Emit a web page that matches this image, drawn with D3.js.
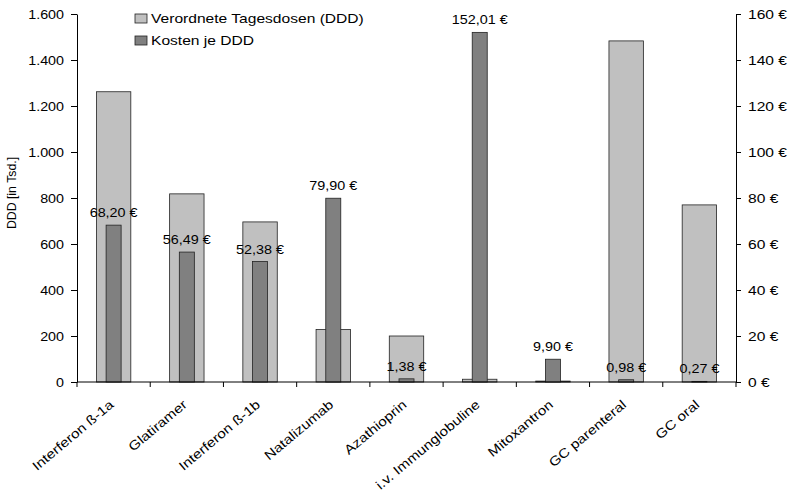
<!DOCTYPE html>
<html>
<head>
<meta charset="utf-8">
<script src="https://cdn.jsdelivr.net/npm/d3@7"></script>
<style>
  body { margin: 0; background: #fff; }
  svg { font-family: "Liberation Sans", Arial, sans-serif; }
</style>
</head>
<body>
<svg id="chart" width="793" height="492"></svg>
<script>
// Categories and series
const categories = ["Interferon ß-1a", "Glatiramer", "Interferon ß-1b", "Natalizumab", "Azathioprin",
  "i.v. Immunglobuline", "Mitoxantron", "GC parenteral", "GC oral"];
const ddd = [1262, 818, 696, 228, 200, 12, 4, 1483, 770];          // Verordnete Tagesdosen (Tsd.)
const kosten = [68.20, 56.49, 52.38, 79.90, 1.38, 152.01, 9.90, 0.98, 0.27]; // Kosten je DDD (€)
const leftTicks = [0, 200, 400, 600, 800, 1000, 1200, 1400, 1600];
const rightTicks = [0, 20, 40, 60, 80, 100, 120, 140, 160];
const seriesNames = ["Verordnete Tagesdosen (DDD)", "Kosten je DDD"];
const colors = ["#c0c0c0", "#808080"];

const svg = d3.select("#chart");
const plotLeft = 77, plotRight = 736, plotTop = 14, plotBottom = 382;

const x = d3.scaleBand().domain(categories).range([plotLeft, plotRight]);
const yL = d3.scaleLinear().domain([0, 1600]).range([plotBottom, plotTop]);
const yR = d3.scaleLinear().domain([0, 160]).range([plotBottom, plotTop]);

const de = d3.formatLocale({decimal: ",", thousands: ".", grouping: [3], currency: ["", " €"]});
const fmtThousands = de.format(",.0f");
const fmtEuro = de.format(",.2f");

const bwL = x.bandwidth() * 0.47;
const bwR = x.bandwidth() * 0.205;
const cx = (d) => x(d) + x.bandwidth() / 2;

// DDD bars (primary axis)
svg.append("g").selectAll("rect").data(categories).join("rect")
  .attr("x", (d) => cx(d) - bwL / 2)
  .attr("y", (d, i) => yL(ddd[i]))
  .attr("width", bwL)
  .attr("height", (d, i) => plotBottom - yL(ddd[i]))
  .attr("fill", colors[0]).attr("stroke", "#222").attr("stroke-width", 0.8);

// Cost bars (secondary axis)
svg.append("g").selectAll("rect").data(categories).join("rect")
  .attr("x", (d) => cx(d) - bwR / 2)
  .attr("y", (d, i) => yR(kosten[i]))
  .attr("width", bwR)
  .attr("height", (d, i) => plotBottom - yR(kosten[i]))
  .attr("fill", colors[1]).attr("stroke", "#222").attr("stroke-width", 0.8);

// Cost labels
svg.append("g").selectAll("text").data(categories).join("text")
  .attr("transform", (d, i) => `translate(${cx(d)},${yR(kosten[i]) - 8}) scale(1.15,1)`)
  .attr("text-anchor", "middle")
  .attr("font-size", 12.5)
  .attr("fill", "#000")
  .text((d, i) => fmtEuro(kosten[i]) + " €");

// Axes
const axisStyle = (sx) => (g) => {
  g.selectAll("path.domain").attr("stroke", "#000");
  g.selectAll(".tick line").attr("stroke", "#000");
  g.selectAll(".tick text").each(function () {
    const t = d3.select(this);
    const tx = +t.attr("x");
    t.attr("x", 0).attr("transform", `translate(${tx},0) scale(${sx},1)`);
  }).attr("font-size", 13).attr("fill", "#000")
    .attr("font-family", "Liberation Sans, Arial, sans-serif");
};

svg.append("g").attr("transform", `translate(${plotLeft},0)`)
  .call(d3.axisLeft(yL).tickValues(leftTicks).tickFormat(fmtThousands).tickSize(6).tickSizeOuter(0).tickPadding(7))
  .call(axisStyle(1.1));

svg.append("g").attr("transform", `translate(${plotRight},0)`)
  .call(d3.axisRight(yR).tickValues(rightTicks).tickFormat((d) => d + " €").tickSize(5).tickSizeOuter(0).tickPadding(7))
  .call(axisStyle(1.2));

// X axis with ticks at category boundaries
const xAxisG = svg.append("g").attr("transform", `translate(0,${plotBottom})`);
xAxisG.append("line").attr("x1", plotLeft).attr("x2", plotRight).attr("stroke", "#000");
xAxisG.selectAll("line.tk").data(d3.range(categories.length + 1)).join("line")
  .attr("class", "tk")
  .attr("x1", (i) => plotLeft + i * x.step()).attr("x2", (i) => plotLeft + i * x.step())
  .attr("y1", 0).attr("y2", 5).attr("stroke", "#000");

svg.append("g").selectAll("text").data(categories).join("text")
  .attr("transform", (d) => `translate(${cx(d) + 1},${plotBottom + 24}) rotate(-40) scale(1.18,1)`)
  .attr("text-anchor", "end")
  .attr("font-size", 13)
  .attr("fill", "#000")
  .text((d) => d);

// Y axis title
svg.append("text")
  .attr("transform", `translate(16,193) rotate(-90)`)
  .attr("text-anchor", "middle")
  .attr("font-size", 12.3)
  .text("DDD [in Tsd.]");

// Legend
const legend = svg.append("g").attr("transform", "translate(135,14)");
seriesNames.forEach((name, i) => {
  const g = legend.append("g").attr("transform", `translate(0,${i * 22})`);
  g.append("rect").attr("width", 12).attr("height", 9).attr("fill", colors[i]).attr("stroke", "#222").attr("stroke-width", 0.8);
  g.append("text").attr("transform", "translate(16,9.3) scale(1.2,1)").attr("font-size", 13).text(name);
});
</script>
</body>
</html>
